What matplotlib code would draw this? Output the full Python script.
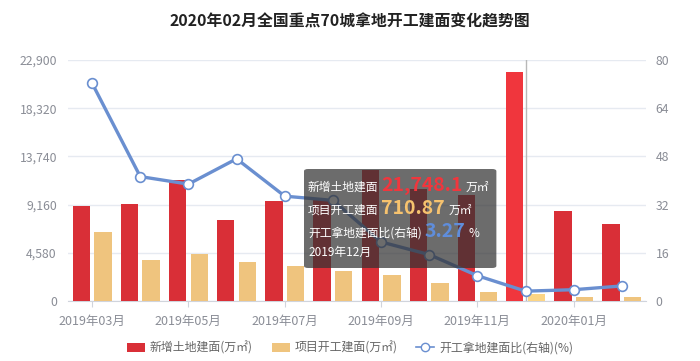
import matplotlib
matplotlib.use("Agg")
from matplotlib import pyplot as plt
from matplotlib.patches import FancyBboxPatch, Patch
from matplotlib.lines import Line2D

plt.rcParams['font.family'] = ['Noto Sans CJK SC', 'DejaVu Sans']

# data
months = ["2019年03月", "2019年04月", "2019年05月", "2019年06月", "2019年07月", "2019年08月",
          "2019年09月", "2019年10月", "2019年11月", "2019年12月", "2020年01月", "2020年02月"]
land_area = [9000, 9250, 11470, 7740, 9480, 9700, 12480, 10680, 10040, 21748.1, 8530, 7270]
start_area = [6540, 3850, 4490, 3700, 3320, 2810, 2460, 1670, 850, 710.87, 350, 410]
ratio = [72.3, 41.3, 38.8, 47.2, 34.8, 33.4, 19.6, 15.4, 8.4, 3.27, 3.75, 5.0]
left_ticks = [0, 4580, 9160, 13740, 18320, 22900]
right_ticks = [0, 16, 32, 48, 64, 80]
hover = 9  # 2019年12月 is highlighted

RED = "#d92f37"
RED_HI = "#f0363d"
YEL = "#efc47e"
YEL_HI = "#fcd585"
BLUE = "#6a8fd0"
GRID = "#e6eaf1"
LABEL = "#8a8d96"

fig = plt.figure(figsize=(7, 3.61), dpi=100)
W, H = 700, 361


def fx(px):
    return px / W


def fy(py):
    return 1 - py / H


ax = fig.add_axes([fx(68), fy(301), fx(646) - fx(68), fy(60) - fy(301)])
ax2 = ax.twinx()

xs = list(range(len(months)))
red_cols = [RED_HI if i == hover else RED for i in xs]
yel_cols = [YEL_HI if i == hover else YEL for i in xs]
ax.bar([x - 0.225 for x in xs], land_area, width=0.36, color=red_cols, zorder=3)
ax.bar([x + 0.225 for x in xs], start_area, width=0.36, color=yel_cols, zorder=3)

ax.set_xlim(-0.5, len(months) - 0.5)
ax.set_ylim(0, 22900)
ax.set_yticks(left_ticks)
ax.set_yticklabels(["{:,}".format(v) for v in left_ticks])
ax.grid(axis="y", color=GRID, lw=1, zorder=0)
ax.axvline(hover, color="#b8b8b8", lw=1, zorder=4)

ax.set_xticks(xs[::2])
ax.set_xticklabels(months[::2])
ax.tick_params(axis="x", colors="#d0d4dc", labelcolor=LABEL, labelsize=9, length=4, pad=6)
ax.tick_params(axis="y", length=0, labelcolor=LABEL, labelsize=8.8, pad=8)
for s in ["top", "left", "right"]:
    ax.spines[s].set_visible(False)
ax.spines["bottom"].set_color("#d0d4dc")

ax2.plot(xs, ratio, color=BLUE, lw=2.4, marker="o", markersize=7, markerfacecolor="white",
         markeredgecolor=BLUE, markeredgewidth=1.2, zorder=5, clip_on=False)
ax2.set_ylim(0, 80)
ax2.set_yticks(right_ticks)
ax2.tick_params(axis="y", length=0, labelcolor=LABEL, labelsize=8.8, pad=7)
for s in ["top", "left", "right", "bottom"]:
    ax2.spines[s].set_visible(False)

fig.text(0.5, fy(22), "2020年02月全国重点70城拿地开工建面变化趋势图", ha="center", va="center",
         fontsize=11.4, fontweight="bold", color="#222222")

# tooltip
renderer = fig.canvas.get_renderer()
row_ends = []


def tip_row(parts, y):
    x = fx(308)
    for txt, col, size, wt in parts:
        t = fig.text(x, fy(y), txt, color=col, fontsize=size, fontweight=wt, va="baseline",
                     ha="left", zorder=11)
        bb = t.get_window_extent(renderer=renderer)
        x = (bb.x1 + 3) / fig.bbox.width
    row_ends.append(x)


tip_row([("新增土地建面", "white", 8.5, "normal"),
         ("{:,}".format(land_area[hover]), "#f0363d", 14, "bold"),
         ("万㎡", "white", 8.5, "normal")], 191)
tip_row([("项目开工建面", "white", 8.5, "normal"),
         ("{:.2f}".format(start_area[hover]), "#f6c26e", 14, "bold"),
         ("万㎡", "white", 8.5, "normal")], 214)
tip_row([("开工拿地建面比(右轴)", "white", 8.5, "normal"),
         ("{:.2f}".format(ratio[hover]), "#5f8ddb", 14, "bold"),
         ("%", "white", 8.5, "normal")], 237)
tip_row([("2019年12月", "white", 8.5, "normal")], 256)

right = max(fx(490), max(row_ends) + fx(4))
box = FancyBboxPatch((fx(304), fy(268)), right - fx(304), fy(169) - fy(268),
                     boxstyle="round,pad=0,rounding_size=0.006", transform=fig.transFigure,
                     facecolor=(0.2, 0.2, 0.2, 0.72), edgecolor="none", zorder=10)
fig.patches.append(box)

handles = [Patch(facecolor=RED, edgecolor="none"),
           Patch(facecolor=YEL, edgecolor="none"),
           Line2D([0], [0], color=BLUE, lw=1.2, marker="o", markersize=6,
                  markerfacecolor="white", markeredgecolor=BLUE)]
labels = ["新增土地建面(万㎡)", "项目开工建面(万㎡)", "开工拿地建面比(右轴)(%)"]
fig.legend(handles, labels, loc="center", bbox_to_anchor=(0.5, fy(348)), ncol=3, frameon=False,
           fontsize=8.6, labelcolor="#666666", handlelength=1.5, handleheight=0.8,
           columnspacing=1.6, handletextpad=0.4)

fig.savefig("out.png", dpi=100)
